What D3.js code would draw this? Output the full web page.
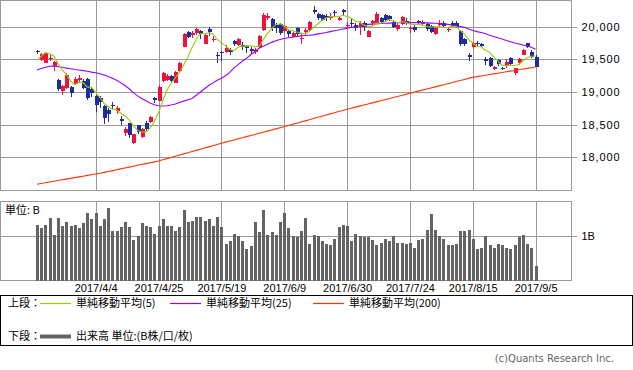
<!DOCTYPE html>
<html lang="ja">
<head>
  <meta charset="UTF-8">
  <title>日足チャート</title>
  <style>
    body {
      margin: 0;
      background-color: #fff;
    }

    svg {
      display: block;
      font-family: "DejaVu Sans", "Noto Sans CJK JP", sans-serif;
    }

    .grid line {
      stroke: #9a9a9a;
      shape-rendering: crispEdges;
    }

    .grid path,
    .axis path {
      display: none;
    }

    .axis line {
      stroke: #9a9a9a;
      shape-rendering: crispEdges;
    }

    .axis text {
      font-size: 11px;
      fill: #000;
    }

    .axis.price text {
      letter-spacing: 0.9px;
    }

    .frame {
      fill: none;
      stroke: #9a9a9a;
      shape-rendering: crispEdges;
    }

    .jp {
      font-family: "Noto Sans CJK JP", sans-serif;
      font-size: 11px;
      fill: #000;
    }
  </style>
</head>
<body>
  <div id="chart"></div>

  <script src="https://d3js.org/d3.v7.min.js"></script>
  <script>
    // trading days
    const dates = [
      "2017/3/14", "2017/3/15", "2017/3/16", "2017/3/17", "2017/3/21", "2017/3/22", "2017/3/23", "2017/3/24", "2017/3/27", "2017/3/28",
      "2017/3/29", "2017/3/30", "2017/3/31", "2017/4/3", "2017/4/4", "2017/4/5", "2017/4/6", "2017/4/7", "2017/4/10", "2017/4/11",
      "2017/4/12", "2017/4/13", "2017/4/14", "2017/4/17", "2017/4/18", "2017/4/19", "2017/4/20", "2017/4/21", "2017/4/24", "2017/4/25",
      "2017/4/26", "2017/4/27", "2017/4/28", "2017/5/1", "2017/5/2", "2017/5/8", "2017/5/9", "2017/5/10", "2017/5/11", "2017/5/12",
      "2017/5/15", "2017/5/16", "2017/5/17", "2017/5/18", "2017/5/19", "2017/5/22", "2017/5/23", "2017/5/24", "2017/5/25", "2017/5/26",
      "2017/5/29", "2017/5/30", "2017/5/31", "2017/6/1", "2017/6/2", "2017/6/5", "2017/6/6", "2017/6/7", "2017/6/8", "2017/6/9",
      "2017/6/12", "2017/6/13", "2017/6/14", "2017/6/15", "2017/6/16", "2017/6/19", "2017/6/20", "2017/6/21", "2017/6/22", "2017/6/23",
      "2017/6/26", "2017/6/27", "2017/6/28", "2017/6/29", "2017/6/30", "2017/7/3", "2017/7/4", "2017/7/5", "2017/7/6", "2017/7/7",
      "2017/7/10", "2017/7/11", "2017/7/12", "2017/7/13", "2017/7/14", "2017/7/18", "2017/7/19", "2017/7/20", "2017/7/21", "2017/7/24",
      "2017/7/25", "2017/7/26", "2017/7/27", "2017/7/28", "2017/7/31", "2017/8/1", "2017/8/2", "2017/8/3", "2017/8/4", "2017/8/7",
      "2017/8/8", "2017/8/9", "2017/8/10", "2017/8/14", "2017/8/15", "2017/8/16", "2017/8/17", "2017/8/18", "2017/8/21", "2017/8/22",
      "2017/8/23", "2017/8/24", "2017/8/25", "2017/8/28", "2017/8/29", "2017/8/30", "2017/8/31", "2017/9/1", "2017/9/4", "2017/9/5"
    ];

    const opens = [
      19628, 19490, 19450, 19500, 19400, 19184, 19016, 19057, 19081, 19123,
      19190, 19173, 19200, 19050, 18939, 18904, 18786, 18725, 18800, 18710,
      18587, 18377, 18521, 18225, 18495, 18316, 18521, 18545, 18904, 18867,
      19169, 19184, 19245, 19143, 19326, 19694, 19914, 19880, 19900, 19934,
      19735, 19960, 19790, 19570, 19605, 19617, 19643, 19781, 19720, 19720,
      19705, 19660, 19608, 19694, 19949, 20128, 20118, 20026, 20041, 19939,
      19930, 19847, 19975, 19810, 19920, 19949, 20250, 20194, 20179, 20164,
      20128, 20230, 20110, 20255, 20010, 20060, 20030, 20000, 20061, 19847,
      20060, 20052, 20128, 20179, 20164, 20077, 19960, 20041, 20092, 19960,
      20000, 20092, 20045, 20041, 20010, 19888, 20030, 20052, 19950, 20061,
      20061, 19939, 19807, 19560, 19684, 19755, 19730, 19500, 19515, 19348,
      19490, 19363, 19398, 19515, 19286, 19449, 19567, 19745, 19617, 19531
    ];

    const highs = [
      19645, 19600, 19610, 19560, 19470, 19200, 19100, 19290, 19090, 19230,
      19260, 19200, 19220, 19080, 18950, 18940, 18800, 18760, 18840, 18780,
      18640, 18470, 18530, 18360, 18500, 18450, 18560, 18640, 18920, 19100,
      19300, 19270, 19260, 19320, 19460, 19900, 19930, 19940, 19985, 19950,
      19890, 19998, 19850, 19617, 19630, 19720, 19670, 19800, 19830, 19760,
      19720, 19690, 19680, 19880, 20214, 20214, 20130, 20050, 20060, 20030,
      19950, 19920, 19990, 19900, 19980, 20080, 20318, 20210, 20190, 20190,
      20210, 20260, 20160, 20270, 20070, 20120, 20060, 20090, 20080, 19950,
      20110, 20220, 20150, 20190, 20180, 20090, 20050, 20160, 20130, 20010,
      20020, 20110, 20100, 20060, 20030, 20000, 20100, 20080, 19990, 20080,
      20080, 19950, 19830, 19600, 19770, 19780, 19750, 19540, 19530, 19400,
      19510, 19380, 19500, 19530, 19370, 19520, 19660, 19750, 19643, 19560
    ];

    const lows = [
      19585, 19470, 19440, 19470, 19320, 19020, 18955, 19050, 18919, 19100,
      19160, 19040, 18880, 18920, 18700, 18760, 18517, 18540, 18740, 18660,
      18500, 18330, 18300, 18200, 18360, 18300, 18400, 18520, 18827, 18860,
      19160, 19170, 19150, 19140, 19310, 19690, 19830, 19830, 19870, 19810,
      19730, 19860, 19760, 19440, 19470, 19590, 19560, 19700, 19700, 19640,
      19600, 19580, 19580, 19680, 19940, 20103, 19940, 19900, 19880, 19900,
      19840, 19840, 19860, 19740, 19880, 19940, 20194, 20100, 20090, 20080,
      20110, 20150, 20090, 20160, 19980, 19990, 19940, 19873, 19940, 19840,
      20030, 20050, 20040, 20080, 20090, 19980, 19940, 20030, 20020, 19900,
      19920, 20020, 20020, 19930, 19900, 19870, 20000, 19980, 19920, 19990,
      19980, 19700, 19700, 19470, 19660, 19700, 19690, 19420, 19380, 19330,
      19400, 19330, 19370, 19400, 19260, 19420, 19560, 19670, 19516, 19380
    ];

    const closes = [
      19605, 19580, 19590, 19520, 19460, 19040, 19085, 19265, 18985, 19200,
      19215, 19060, 18910, 18985, 18800, 18840, 18597, 18664, 18790, 18750,
      18552, 18430, 18335, 18355, 18390, 18432, 18430, 18620, 18875, 19079,
      19290, 19251, 19175, 19310, 19445, 19895, 19843, 19900, 19961, 19883,
      19869, 19919, 19814, 19553, 19590, 19678, 19613, 19730, 19813, 19686,
      19675, 19630, 19650, 19860, 20177, 20170, 19979, 19984, 19909, 20013,
      19885, 19898, 19883, 19831, 19943, 20067, 20230, 20138, 20110, 20132,
      20170, 20225, 20130, 20220, 20033, 20055, 19980, 20060, 19994, 19929,
      20080, 20195, 20070, 20099, 20118, 20000, 20020, 20144, 20060, 19975,
      19955, 20050, 20079, 19959, 19925, 19985, 20050, 20010, 19965, 20010,
      20000, 19738, 19729, 19537, 19753, 19729, 19710, 19470, 19393, 19383,
      19434, 19353, 19452, 19430, 19362, 19506, 19646, 19691, 19530, 19385
    ];

    // 単純移動平均 (5)
    const ma5 = [
      19483, 19548, 19602, 19586, 19551, 19438, 19339, 19274, 19167, 19115,
      19150, 19145, 19074, 19074, 18994, 18919, 18826, 18777, 18738, 18728,
      18671, 18637, 18571, 18484, 18412, 18388, 18388, 18445, 18549, 18687,
      18859, 19023, 19134, 19221, 19294, 19415, 19534, 19679, 19809, 19896,
      19891, 19906, 19889, 19808, 19749, 19711, 19650, 19633, 19685, 19704,
      19703, 19707, 19691, 19700, 19798, 19897, 19967, 20034, 20044, 20011,
      19954, 19938, 19918, 19902, 19888, 19924, 19991, 20042, 20098, 20135,
      20156, 20155, 20153, 20175, 20156, 20133, 20084, 20070, 20024, 20004,
      20009, 20052, 20054, 20075, 20112, 20096, 20061, 20076, 20068, 20040,
      20031, 20037, 20024, 20004, 19994, 20000, 20000, 19986, 19987, 20004,
      20007, 19945, 19888, 19803, 19751, 19697, 19692, 19640, 19611, 19537,
      19478, 19407, 19403, 19410, 19406, 19421, 19479, 19527, 19547, 19552
    ];

    // 単純移動平均 (25)
    const ma25 = [
      19337, 19360, 19380, 19395, 19398, 19390, 19378, 19365, 19355, 19345,
      19337, 19328, 19318, 19305, 19296, 19280, 19260, 19238, 19212, 19180,
      19140, 19100, 19050, 18990, 18940, 18900, 18865, 18830, 18805, 18790,
      18785, 18790, 18800, 18815, 18840, 18860, 18880, 18900, 18950, 19000,
      19050, 19100, 19140, 19180, 19210, 19250, 19300, 19370, 19420, 19470,
      19516, 19570, 19620, 19670, 19700, 19730, 19760, 19785, 19805, 19820,
      19830, 19838, 19850, 19860, 19866, 19870, 19875, 19890, 19899, 19910,
      19925, 19938, 19950, 19965, 19978, 19990, 20000, 20010, 20020, 20035,
      20040, 20044, 20048, 20052, 20055, 20058, 20060, 20061, 20062, 20062,
      20062, 20061, 20060, 20058, 20055, 20052, 20048, 20043, 20036, 20025,
      20012, 20002, 19990, 19965, 19942, 19925, 19910, 19895, 19870, 19850,
      19830, 19812, 19790, 19770, 19750, 19735, 19720, 19705, 19685, 19655
    ];

    // 単純移動平均 (200)
    const ma200 = [
      17587, 17598, 17610, 17621, 17632, 17644, 17655, 17666, 17677, 17689,
      17700, 17711, 17723, 17734, 17745, 17756, 17769, 17783, 17796, 17810,
      17823, 17836, 17850, 17863, 17877, 17890, 17903, 17917, 17930, 17944,
      17962, 17980, 17998, 18016, 18034, 18052, 18070, 18088, 18106, 18124,
      18142, 18160, 18178, 18196, 18215, 18232, 18249, 18266, 18283, 18300,
      18317, 18333, 18350, 18367, 18384, 18401, 18418, 18435, 18452, 18469,
      18487, 18505, 18522, 18540, 18558, 18576, 18594, 18613, 18630, 18648,
      18665, 18683, 18700, 18718, 18735, 18751, 18768, 18784, 18800, 18817,
      18833, 18849, 18866, 18882, 18898, 18915, 18931, 18947, 18964, 18980,
      18996, 19013, 19029, 19045, 19062, 19078, 19094, 19111, 19127, 19143,
      19160, 19176, 19192, 19209, 19225, 19236, 19246, 19257, 19267, 19278,
      19288, 19299, 19309, 19320, 19330, 19341, 19351, 19362, 19372, 19383
    ];

    // 出来高 (B株)
    const volumes = [
      1.244, 1.156, 1.244, 1.378, 1.022, 1.378, 1.222, 1.289, 1.222, 1.244,
      1.156, 1.267, 1.511, 1.356, 1.489, 1.222, 1.356, 1.622, 1.111, 1.089,
      1.200, 1.289, 1.200, 0.889, 0.978, 1.267, 1.222, 1.178, 1.030, 1.222,
      1.356, 1.222, 1.222, 1.111, 1.178, 1.556, 1.289, 1.333, 1.422, 1.422,
      1.333, 1.356, 1.222, 1.422, 1.200, 0.822, 0.867, 1.044, 0.978, 0.867,
      0.689, 0.756, 1.311, 1.067, 1.556, 1.022, 1.067, 1.022, 1.311, 1.511,
      1.156, 1.000, 0.956, 1.111, 1.400, 0.822, 1.022, 0.978, 0.867, 0.822,
      0.800, 0.933, 1.200, 1.244, 1.222, 0.867, 1.044, 0.978, 0.956, 0.956,
      0.889, 0.800, 0.844, 0.933, 0.867, 0.978, 0.844, 0.844, 0.822, 0.844,
      0.733, 0.889, 0.933, 1.133, 1.467, 1.133, 1.000, 0.933, 0.800, 0.778,
      0.822, 1.089, 1.089, 1.133, 0.933, 0.711, 0.733, 1.000, 0.778, 0.733,
      0.822, 0.778, 0.733, 0.711, 0.778, 0.956, 1.022, 0.822, 0.733, 0.333
    ];

    const priceTicks = [18000, 18500, 19000, 19500, 20000];
    const dateTicks = ["2017/4/4", "2017/4/25", "2017/5/19", "2017/6/9", "2017/6/30", "2017/7/24", "2017/8/15", "2017/9/5"];
    const volumeTicks = [1];

    // panel frames
    const upper = { x0: 0.5, x1: 571.5, y0: 0.5, y1: 190.5 };
    const lower = { x0: 0.5, x1: 571.5, y0: 201.5, y1: 280.5 };

    const upColor = '#f0103c';
    const downColor = '#1f2c9c';

    const svg = d3.select('#chart')
      .append('svg')
      .attr('width', 633)
      .attr('height', 370);

    // scales
    const xScale = d3.scaleLinear()
      .domain([0, dates.length - 1])
      .range([37, 535.6]);

    const yScale = d3.scaleLinear()
      .domain([18000, 20000])
      .range([157.3, 26.7]);

    const vScale = d3.scaleLinear()
      .domain([0, 1])
      .range([lower.y1, 235.5]);

    const tickIdx = dateTicks.map(d => dates.indexOf(d));

    // grid lines, upper panel
    svg.append('g')
      .attr('class', 'grid')
      .attr('transform', `translate(${upper.x1}, 0)`)
      .call(d3.axisLeft(yScale).tickValues(priceTicks).tickSize(upper.x1 - upper.x0).tickFormat(''));

    svg.append('g')
      .attr('class', 'grid')
      .attr('transform', `translate(0, ${upper.y0})`)
      .call(d3.axisBottom(xScale).tickValues(tickIdx).tickSize(upper.y1 - upper.y0).tickFormat(''));

    // grid lines, lower panel
    svg.append('g')
      .attr('class', 'grid')
      .attr('transform', `translate(${lower.x1}, 0)`)
      .call(d3.axisLeft(vScale).tickValues(volumeTicks).tickSize(lower.x1 - lower.x0).tickFormat(''));

    svg.append('g')
      .attr('class', 'grid')
      .attr('transform', `translate(0, ${lower.y0})`)
      .call(d3.axisBottom(xScale).tickValues(tickIdx).tickSize(lower.y1 - lower.y0).tickFormat(''));

    // frames
    [upper, lower].forEach(p => {
      svg.append('rect')
        .attr('class', 'frame')
        .attr('x', p.x0)
        .attr('y', p.y0)
        .attr('width', p.x1 - p.x0)
        .attr('height', p.y1 - p.y0);
    });

    // price axis labels
    svg.append('g')
      .attr('class', 'axis price')
      .attr('transform', `translate(${upper.x1}, 0)`)
      .call(d3.axisRight(yScale).tickValues(priceTicks).tickSize(5).tickPadding(5).tickFormat(d3.format(',')));

    // volume axis label
    svg.append('g')
      .attr('class', 'axis')
      .attr('transform', `translate(${lower.x1}, 0)`)
      .call(d3.axisRight(vScale).tickValues(volumeTicks).tickSize(5).tickPadding(5).tickFormat(d => d + 'B'));

    // date labels
    svg.append('g')
      .attr('class', 'axis')
      .attr('transform', `translate(0, ${lower.y1})`)
      .call(d3.axisBottom(xScale).tickValues(tickIdx).tickSize(0).tickPadding(4).tickFormat(i => dates[i]));

    // candlesticks
    const candles = svg.append('g')
      .selectAll('g')
      .data(dates.map((d, i) => i))
      .enter()
      .append('g')
      .attr('shape-rendering', 'crispEdges');

    candles.append('line')
      .attr('x1', i => Math.round(xScale(i)) + 0.5)
      .attr('x2', i => Math.round(xScale(i)) + 0.5)
      .attr('y1', i => yScale(highs[i]))
      .attr('y2', i => yScale(lows[i]))
      .attr('stroke', i => closes[i] >= opens[i] ? upColor : downColor);

    candles.append('rect')
      .attr('x', i => Math.round(xScale(i)) - 1.5)
      .attr('width', 4)
      .attr('y', i => yScale(Math.max(opens[i], closes[i])))
      .attr('height', i => Math.max(1, Math.abs(yScale(opens[i]) - yScale(closes[i]))))
      .attr('fill', i => closes[i] >= opens[i] ? upColor : downColor);

    // moving averages
    const line = d3.line()
      .x((d, i) => xScale(i))
      .y(d => yScale(d));

    [[ma200, '#ff3300'], [ma25, '#9900ff'], [ma5, '#99cc00']].forEach(([s, c]) => {
      svg.append('path')
        .datum(s)
        .attr('d', line)
        .attr('fill', 'none')
        .attr('stroke', c)
        .attr('stroke-width', 1.1);
    });

    // volume bars
    svg.append('g')
      .selectAll('rect')
      .data(volumes)
      .enter()
      .append('rect')
      .attr('x', (d, i) => Math.round(xScale(i)) - 1)
      .attr('width', 3)
      .attr('y', d => vScale(d))
      .attr('height', d => vScale(0) - vScale(d))
      .attr('fill', '#646464')
      .attr('shape-rendering', 'crispEdges');

    svg.append('text')
      .attr('class', 'jp')
      .attr('x', 5)
      .attr('y', 213.5)
      .text('単位: B');

    // legend
    svg.append('rect')
      .attr('x', 0.5)
      .attr('y', 295.5)
      .attr('width', 632)
      .attr('height', 50)
      .attr('fill', 'none')
      .attr('stroke', '#000')
      .attr('shape-rendering', 'crispEdges');

    const legendItems = [
      { key: '上段：', x: 8, y: 303, lines: [
        { x: 40, color: '#99cc00', width: 1.2, label: '単純移動平均(5)' },
        { x: 170, color: '#9900ff', width: 1.2, label: '単純移動平均(25)' },
        { x: 313, color: '#ff3300', width: 1.2, label: '単純移動平均(200)' }
      ] },
      { key: '下段：', x: 8, y: 336, lines: [
        { x: 40, color: '#646464', width: 4, label: '出来高 単位:(B株/口/枚)' }
      ] }
    ];

    legendItems.forEach(row => {
      svg.append('text')
        .attr('class', 'jp')
        .attr('x', row.x)
        .attr('y', row.y)
        .attr('dy', '0.35em')
        .text(row.key);

      row.lines.forEach(l => {
        svg.append('line')
          .attr('x1', l.x)
          .attr('x2', l.x + 31)
          .attr('y1', row.y + 0.5)
          .attr('y2', row.y + 0.5)
          .attr('stroke', l.color)
          .attr('stroke-width', l.width);

        svg.append('text')
          .attr('class', 'jp')
          .attr('x', l.x + 36)
          .attr('y', row.y)
          .attr('dy', '0.35em')
          .text(l.label);
      });
    });

    svg.append('text')
      .attr('x', 614)
      .attr('y', 362)
      .attr('text-anchor', 'end')
      .attr('font-size', '10px')
      .attr('fill', '#666')
      .text('(c)Quants Research Inc.');
  </script>
</body>
</html>
